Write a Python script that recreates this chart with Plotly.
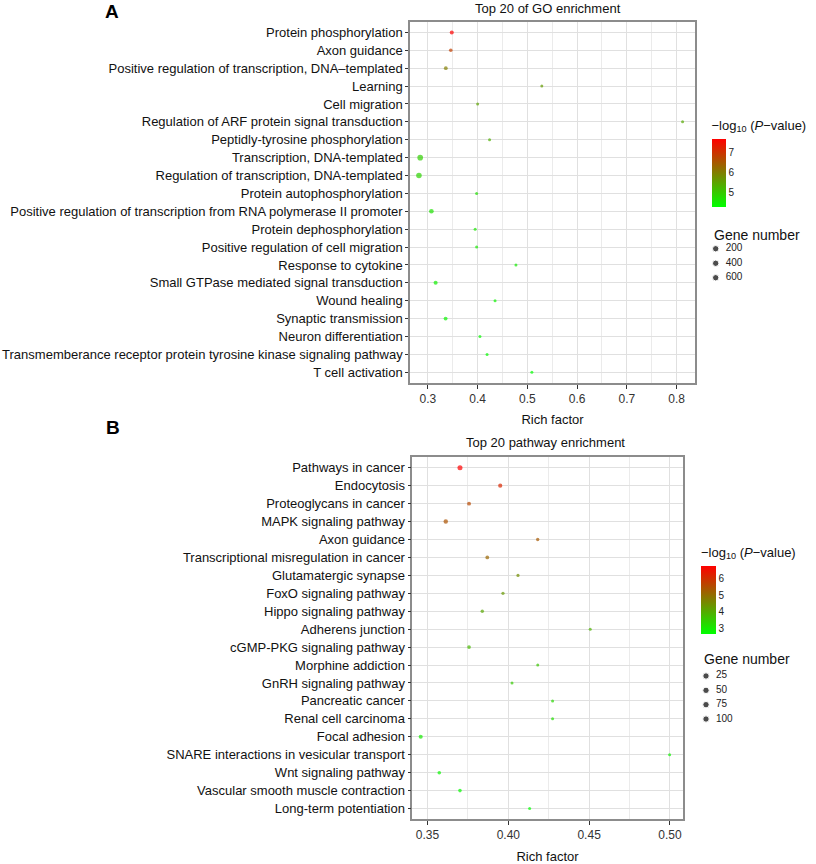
import plotly.graph_objects as go

# ---------------- Data ----------------
go_terms = [
    "Protein phosphorylation", "Axon guidance",
    "Positive regulation of transcription, DNA\u2013templated", "Learning",
    "Cell migration", "Regulation of ARF protein signal transduction",
    "Peptidly-tyrosine phosphorylation", "Transcription, DNA-templated",
    "Regulation of transcription, DNA-templated", "Protein autophosphorylation",
    "Positive regulation of transcription from RNA polymerase II promoter",
    "Protein dephosphorylation", "Positive regulation of cell migration",
    "Response to cytokine", "Small GTPase mediated signal transduction",
    "Wound healing", "Synaptic transmission", "Neuron differentiation",
    "Transmemberance receptor protein tyrosine kinase signaling pathway",
    "T cell activation",
]
go_rich = [0.348, 0.346, 0.336, 0.529, 0.400, 0.812, 0.424, 0.2845, 0.282, 0.398,
           0.307, 0.395, 0.398, 0.477, 0.3155, 0.435, 0.3356, 0.4046, 0.419, 0.509]
go_genes = [330, 260, 290, 70, 110, 30, 100, 640, 620, 110,
            430, 100, 105, 65, 330, 85, 300, 120, 105, 65]
go_logp = [7.7, 6.85, 6.0, 5.6, 5.5, 5.4, 5.3, 4.9, 4.85, 4.7,
           4.65, 4.6, 4.55, 4.5, 4.45, 4.4, 4.38, 4.33, 4.3, 4.25]
go_size_legend = [200, 400, 600]
go_x_ticks = [0.3, 0.4, 0.5, 0.6, 0.7, 0.8]
go_cbar_ticks = [5, 6, 7]

kegg_terms = [
    "Pathways in cancer", "Endocytosis", "Proteoglycans in cancer",
    "MAPK signaling pathway", "Axon guidance", "Transcriptional misregulation in cancer",
    "Glutamatergic synapse", "FoxO signaling pathway", "Hippo signaling pathway",
    "Adherens junction", "cGMP-PKG signaling pathway", "Morphine addiction",
    "GnRH signaling pathway", "Pancreatic cancer", "Renal cell carcinoma",
    "Focal adhesion", "SNARE interactions in vesicular transport",
    "Wnt signaling pathway", "Vascular smooth muscle contraction",
    "Long-term potentiation",
]
kegg_rich = [0.3701, 0.3950, 0.3757, 0.3613, 0.4182, 0.3870, 0.4060, 0.3967, 0.3839, 0.4507,
             0.3757, 0.4182, 0.4023, 0.4274, 0.4274, 0.3458, 0.4998, 0.3573, 0.3701, 0.4132]
kegg_genes = [110, 75, 68, 85, 48, 60, 45, 45, 50, 30,
              58, 35, 35, 30, 30, 72, 12, 55, 55, 30]
kegg_logp = [6.77, 6.15, 5.6, 5.45, 5.35, 5.15, 4.5, 4.3, 4.1, 3.9,
             3.8, 3.6, 3.5, 3.3, 3.2, 3.0, 2.9, 2.8, 2.72, 2.66]
kegg_size_legend = [25, 50, 75, 100]
kegg_x_ticks = [0.35, 0.40, 0.45, 0.50]
kegg_cbar_ticks = [3, 4, 5, 6]

# ---------------- Styles ----------------
W, H = 816, 864
FONT = "Liberation Sans, Arial, sans-serif"
colorscale = [[0, "#00FF00"], [1, "#FF0000"]]
SREF_A, SREF_B = 40, 8.6


def px(x):
    return x / W


def py(y):
    return 1 - y / H


fig = go.Figure()
cbar_title = "\u2212log<sub>10</sub> (<i>P</i>\u2212value)"


def cbar(x0, ytop, thick, ticks):
    return dict(x=px(x0), xanchor="left", y=py(ytop), yanchor="top",
                len=90, lenmode="pixels", thickness=thick, thicknessmode="pixels",
                xpad=0, ypad=0, outlinewidth=0, ticks="",
                tickvals=ticks, tickfont=dict(size=10, color="#222"),
                title=dict(text=cbar_title, side="top", font=dict(size=13, color="#111")))


fig.add_trace(go.Scatter(
    x=go_rich, y=go_terms, mode="markers", xaxis="x", yaxis="y", showlegend=False,
    marker=dict(size=go_genes, sizemode="area", sizeref=SREF_A, sizemin=1.5,
                color=go_logp, colorscale=colorscale,
                cmin=min(go_logp), cmax=max(go_logp), line=dict(width=0),
                colorbar=cbar(711.5, 117, 14, go_cbar_ticks)),
))
fig.add_trace(go.Scatter(
    x=kegg_rich, y=kegg_terms, mode="markers", xaxis="x2", yaxis="y2", showlegend=False,
    marker=dict(size=kegg_genes, sizemode="area", sizeref=SREF_B, sizemin=1.5,
                color=kegg_logp, colorscale=colorscale,
                cmin=min(kegg_logp), cmax=max(kegg_logp), line=dict(width=0),
                colorbar=cbar(701, 544, 15, kegg_cbar_ticks)),
))

# size-legend keys, drawn on their own small axes
go_leg_labels = [str(v) for v in go_size_legend]
kegg_leg_labels = [str(v) for v in kegg_size_legend]
fig.add_trace(go.Scatter(
    x=[5] * len(go_size_legend), y=go_leg_labels, mode="markers", xaxis="x3", yaxis="y3",
    showlegend=False, hoverinfo="skip",
    marker=dict(size=go_size_legend, sizemode="area", sizeref=SREF_A * 2.0, sizemin=3.2,
                color="black")))
fig.add_trace(go.Scatter(
    x=[15] * len(go_size_legend), y=go_leg_labels, mode="text", text=go_leg_labels,
    textposition="middle right", xaxis="x3", yaxis="y3", showlegend=False,
    hoverinfo="skip", textfont=dict(size=10, color="#222")))
fig.add_trace(go.Scatter(
    x=[5] * len(kegg_size_legend), y=kegg_leg_labels, mode="markers", xaxis="x4", yaxis="y4",
    showlegend=False, hoverinfo="skip",
    marker=dict(size=kegg_size_legend, sizemode="area", sizeref=SREF_B * 2.0, sizemin=3.2,
                color="black")))
fig.add_trace(go.Scatter(
    x=[15] * len(kegg_size_legend), y=kegg_leg_labels, mode="text", text=kegg_leg_labels,
    textposition="middle right", xaxis="x4", yaxis="y4", showlegend=False,
    hoverinfo="skip", textfont=dict(size=10, color="#222")))

grid = "#E0E0E0"
border = "#8C8C8C"
common_x = dict(showline=True, mirror=True, linecolor=border, linewidth=1.5,
                showgrid=True, gridcolor=grid, gridwidth=1, zeroline=False,
                ticks="outside", ticklen=4, tickcolor="#333", tickwidth=1,
                tickfont=dict(size=12, color="#333"),
                title=dict(text="Rich factor", font=dict(size=13, color="#111"), standoff=10))
common_y = dict(type="category", categoryorder="array", showline=True, mirror=True,
                linecolor=border, linewidth=1.5, showgrid=True, gridcolor=grid, gridwidth=1,
                ticks="outside", ticklen=3, tickcolor="#333", tickwidth=1,
                tickfont=dict(size=13, color="#111"))
hidden = dict(visible=False, showgrid=False, zeroline=False, fixedrange=True)

fig.update_layout(
    width=W, height=H, margin=dict(l=0, r=0, t=0, b=0),
    paper_bgcolor="white", plot_bgcolor="white",
    font=dict(family=FONT, color="#111"),
    xaxis=dict(domain=[px(410), px(695)], range=[0.264, 0.837], anchor="y",
               tickvals=go_x_ticks, ticktext=[f"{v:.1f}" for v in go_x_ticks],
               minor=dict(dtick=0.1, tick0=0.35, showgrid=True, gridcolor="#EBEBEB",
                          gridwidth=0.6, ticks=""),
               **common_x),
    yaxis=dict(domain=[py(383), py(21.7)], anchor="x", categoryarray=go_terms,
               range=[19.6, -0.6], **common_y),
    xaxis2=dict(domain=[px(412.3), px(682.7)], range=[0.3406, 0.5079], anchor="y2",
                tickvals=kegg_x_ticks, ticktext=[f"{v:.2f}" for v in kegg_x_ticks],
                minor=dict(dtick=0.05, tick0=0.325, showgrid=True, gridcolor="#EBEBEB",
                           gridwidth=0.6, ticks=""),
                **common_x),
    yaxis2=dict(domain=[py(819.3), py(457)], anchor="x2", categoryarray=kegg_terms,
                range=[19.6, -0.6], **common_y),
    # legend key axes (1 unit = 1 px horizontally)
    xaxis3=dict(domain=[px(710.7), px(770.7)], range=[0, 60], anchor="y3", **hidden),
    yaxis3=dict(domain=[py(285.0), py(241.5)], anchor="x3", type="category",
                categoryorder="array", categoryarray=go_leg_labels,
                range=[2.5, -0.5], **hidden),
    xaxis4=dict(domain=[px(701), px(761)], range=[0, 60], anchor="y4", **hidden),
    yaxis4=dict(domain=[py(726.2), py(668.8)], anchor="x4", type="category",
                categoryorder="array", categoryarray=kegg_leg_labels,
                range=[3.5, -0.5], **hidden),
    annotations=[
        dict(text="<b>A</b>", x=px(112), y=py(11), xref="paper", yref="paper",
             xanchor="center", yanchor="middle", showarrow=False,
             font=dict(size=19, color="black")),
        dict(text="<b>B</b>", x=px(113), y=py(427), xref="paper", yref="paper",
             xanchor="center", yanchor="middle", showarrow=False,
             font=dict(size=19, color="black")),
        dict(text="Top 20 of GO enrichment", x=px(548), y=py(8), xref="paper", yref="paper",
             xanchor="center", yanchor="middle", showarrow=False,
             font=dict(size=13, color="#111")),
        dict(text="Top 20 pathway enrichment", x=px(545), y=py(442), xref="paper",
             yref="paper", xanchor="center", yanchor="middle", showarrow=False,
             font=dict(size=13, color="#111")),
        dict(text="Gene number", x=px(712), y=py(235), xref="paper", yref="paper",
             xanchor="left", yanchor="middle", showarrow=False,
             font=dict(size=14, color="#111")),
        dict(text="Gene number", x=px(702), y=py(659), xref="paper", yref="paper",
             xanchor="left", yanchor="middle", showarrow=False,
             font=dict(size=14, color="#111")),
    ],
)

fig.write_html("out.html", config={"displayModeBar": False},
               post_script="document.body.style.margin='0';document.body.style.overflow='hidden';")
